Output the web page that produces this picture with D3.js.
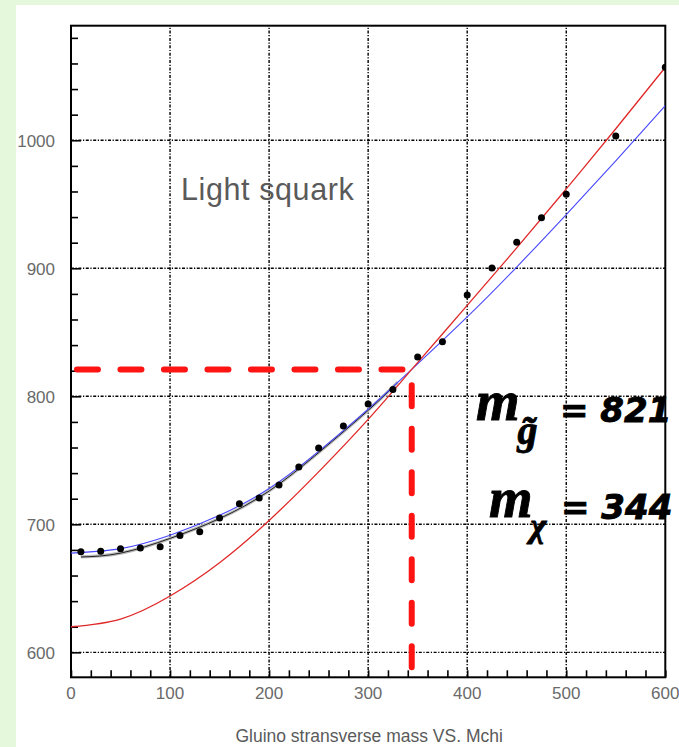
<!DOCTYPE html>
<html>
<head>
<meta charset="utf-8">
<script src="https://cdn.jsdelivr.net/npm/d3@7"></script>
<style>
  body { margin: 0; background: #e6f8dc; }
  svg { display: block; }
</style>
</head>
<body>
<svg id="chart" width="679" height="747"></svg>
<script>
// Measured gluino transverse-mass endpoints vs. trial neutralino mass (Mchi)
const pointMchi = [10, 30, 50, 70, 90, 110, 130, 150, 170, 190, 210, 230, 250, 275, 300, 325, 350, 375, 400, 425, 450, 475, 500, 550, 600];
const pointMass = [678.6, 679, 681, 681.5, 682.5, 691.3, 694.2, 705, 716, 720.5, 730.7, 744.7, 759.6, 776.8, 794, 805.3, 830.8, 842.7, 879.1, 900.2, 920.3, 939.5, 957.8, 1003.4, 1057];

// Fitted curves
const redMchi  = [0, 50, 100, 150, 200, 250, 300, 344, 400, 450, 500, 550, 600];
const redMass  = [620, 626, 644, 670, 703, 741, 782, 821, 871, 916, 962, 1009, 1057];
const blueMchi = [0, 50, 100, 150, 200, 250, 300, 344, 400, 450, 500, 550, 600];
const blueMass = [677.5, 681, 691.5, 707, 728, 757, 790, 821, 862, 901, 942, 984, 1027];
const blackMchi = [10, 50, 100, 150, 200, 250, 300, 330];
const blackMass = [674.5, 677.5, 689, 704.5, 726, 756, 789, 811];

// Kink position quoted in the annotations
const kinkMchi = 344;
const kinkGluino = 821;

const xTickValues = [0, 100, 200, 300, 400, 500, 600];
const yTickValues = [600, 700, 800, 900, 1000];
const xTitle = "Gluino stransverse mass VS. Mchi";
const panelLabel = "Light squark";

const svg = d3.select("#chart");
const W = 679, H = 747;

// white canvas on the green page
svg.append("rect").attr("x", 16).attr("y", 5).attr("width", W - 16).attr("height", H - 5).attr("fill", "#ffffff");

const plot = { left: 71, right: 665.3, top: 25.7, bottom: 677.3 };
const x = d3.scaleLinear().domain([0, 600]).range([plot.left, plot.right]);
const y = d3.scaleLinear().domain([580.5, 1089.5]).range([plot.bottom, plot.top]);

svg.append("clipPath").attr("id", "plotClip")
  .append("rect").attr("x", plot.left).attr("y", plot.top)
  .attr("width", plot.right - plot.left).attr("height", plot.bottom - plot.top);

// grid
const gridDash = "3,1.6,1.2,1.6";
const grid = svg.append("g").attr("stroke", "#000").attr("stroke-width", 1.4).attr("stroke-dasharray", gridDash).attr("fill", "none");
xTickValues.filter(v => v > 0 && v < 600).forEach(v => {
  grid.append("line").attr("x1", x(v)).attr("x2", x(v)).attr("y1", plot.bottom).attr("y2", plot.top);
});
yTickValues.forEach(v => {
  grid.append("line").attr("x1", plot.left).attr("x2", plot.right).attr("y1", y(v)).attr("y2", y(v));
});

// axes with minor ticks (every 20)
const xAxis = d3.axisBottom(x).tickValues(d3.range(0, 601, 20)).tickSize(-7).tickFormat("");
const yAxis = d3.axisLeft(y).tickValues(d3.range(600, 1090, 20)).tickSize(-7).tickFormat("");
const gx = svg.append("g").attr("transform", `translate(0,${plot.bottom})`).call(xAxis);
const gy = svg.append("g").attr("transform", `translate(${plot.left},0)`).call(yAxis);
[gx, gy].forEach(g => {
  g.select(".domain").remove();
  g.selectAll(".tick line").attr("stroke", "#000").attr("stroke-width", 1.6);
});
gy.selectAll(".tick line").filter(d => d % 100 === 0).attr("x2", 10);

// frame
svg.append("rect").attr("x", plot.left).attr("y", plot.top)
  .attr("width", plot.right - plot.left).attr("height", plot.bottom - plot.top)
  .attr("fill", "none").attr("stroke", "#000").attr("stroke-width", 2);

// tick labels
const labelFont = "'Liberation Sans', Arial, sans-serif";
svg.append("g").selectAll("text").data(xTickValues).join("text")
  .attr("x", d => x(d)).attr("y", 699)
  .attr("text-anchor", "middle").attr("font-family", labelFont).attr("font-size", 17)
  .attr("fill", "#6a6a6a").text(d => d);
svg.append("g").selectAll("text").data(yTickValues).join("text")
  .attr("x", 55).attr("y", d => y(d) + 6.5)
  .attr("text-anchor", "end").attr("font-family", labelFont).attr("font-size", 17)
  .attr("fill", "#6a6a6a").text(d => d);

svg.append("text").attr("x", (plot.left + plot.right) / 2 + 1).attr("y", 742)
  .attr("text-anchor", "middle").attr("font-family", labelFont).attr("font-size", 17.5)
  .attr("fill", "#5a5a5a").text(xTitle);

svg.append("text").attr("x", 181).attr("y", 200)
  .attr("font-family", labelFont).attr("font-size", 30.5).attr("letter-spacing", 0.6)
  .attr("fill", "#5a5a5a").text(panelLabel);

// curves and points
const layer = svg.append("g").attr("clip-path", "url(#plotClip)");
const line = d3.line().x(d => x(d[0])).y(d => y(d[1])).curve(d3.curveNatural);

layer.append("path").datum(d3.zip(blackMchi, blackMass))
  .attr("d", line).attr("fill", "none").attr("stroke", "#bbbbbb").attr("stroke-width", 3.2);
layer.append("path").datum(d3.zip(blackMchi, blackMass))
  .attr("d", line).attr("fill", "none").attr("stroke", "#222").attr("stroke-width", 1);
layer.append("path").datum(d3.zip(blueMchi, blueMass))
  .attr("d", line).attr("fill", "none").attr("stroke", "#4646ff").attr("stroke-width", 1.1);
layer.append("path").datum(d3.zip(redMchi, redMass))
  .attr("d", line).attr("fill", "none").attr("stroke", "#e02828").attr("stroke-width", 1.3);

layer.append("g").selectAll("circle").data(d3.zip(pointMchi, pointMass)).join("circle")
  .attr("cx", d => x(d[0])).attr("cy", d => y(d[1])).attr("r", 3.5).attr("fill", "#000");

// hand-drawn marker lines pointing at the kink
const kx = x(kinkMchi), ky = y(kinkGluino);
const r = 6;
const markerPath = `M${x(6)},${ky} H${kx - r} Q${kx},${ky} ${kx},${ky + r} V${plot.bottom - 6}`;
svg.append("path").attr("d", markerPath)
  .attr("fill", "none").attr("stroke", "#ff1414").attr("stroke-width", 6)
  .attr("stroke-linecap", "round").attr("stroke-dasharray", "21,22.5");

// handwritten mass values: m, subscript, "= value" in one text each
const scriptFont = "'Liberation Serif', 'DejaVu Serif', serif";
const handFont = "'DejaVu Sans', sans-serif";
function massNote(px, py, sub, subSize, subDrop, valueX, value) {
  const t = svg.append("text").attr("x", px).attr("y", py)
    .attr("fill", "#000").attr("stroke", "#000").attr("stroke-width", 0.9)
    .attr("font-style", "italic").attr("font-weight", "bold");
  t.append("tspan").attr("font-family", scriptFont).attr("font-size", 56).text("m");
  t.append("tspan").attr("font-family", scriptFont).attr("font-size", subSize)
    .attr("dx", -2).attr("dy", subDrop).text(sub);
  t.append("tspan").attr("font-family", handFont).attr("font-size", 34)
    .attr("x", valueX).attr("y", py + 2).text("= " + value);
}
massNote(476, 420, "g\u0303", 40, 24, 560, kinkGluino);
massNote(489, 517, "\u03C7", 34, 20, 561, kinkMchi);
</script>
</body>
</html>
